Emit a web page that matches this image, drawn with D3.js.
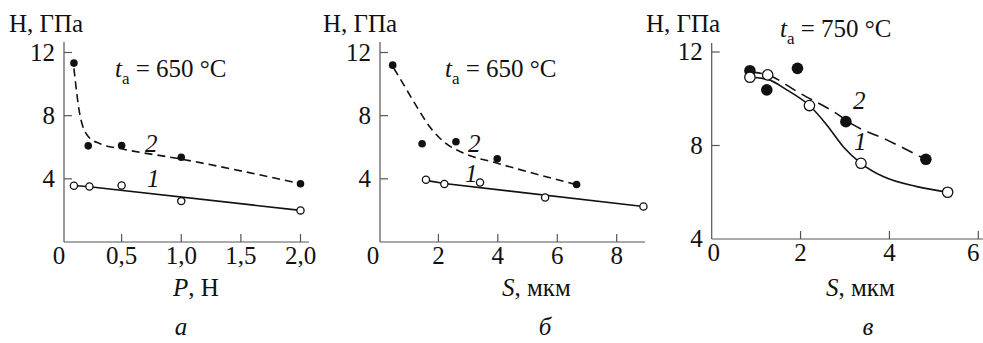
<!DOCTYPE html>
<html><head><meta charset="utf-8">
<script src="https://cdn.jsdelivr.net/npm/d3@7"></script>
<style>body{margin:0;background:#fff}</style>
</head><body><svg id="c" width="983" height="343"></svg>
<script>
// ---- Panel a: H vs P ----
const aX1 = [0.1, 0.23, 0.5, 1.0, 2.0];
const aY1 = [3.56, 3.51, 3.58, 2.59, 2.0];
const aX2 = [0.1, 0.22, 0.5, 1.0, 2.0];
const aY2 = [11.33, 6.09, 6.11, 5.37, 3.69];
const aFit1X = [0.1, 0.23, 2.0];
const aFit1Y = [3.58, 3.5, 2.0];
const aFit2X = [0.1, 0.15, 0.22, 0.32, 0.5, 1.0, 2.0];
const aFit2Y = [11.0, 8.06, 6.68, 6.22, 5.9, 5.25, 3.69];
const aXTicks = [0, 0.5, 1.0, 1.5, 2.0];
const aXTickLabels = ["0", "0,5", "1,0", "1,5", "2,0"];
// ---- Panel b: H vs S (650 °C) ----
const bX1 = [1.58, 2.2, 3.4, 5.59, 8.9];
const bY1 = [3.94, 3.67, 3.77, 2.82, 2.25];
const bX2 = [0.46, 1.45, 2.59, 3.98, 6.65];
const bY2 = [11.2, 6.22, 6.35, 5.27, 3.64];
const bFit1X = [1.58, 2.2, 8.9];
const bFit1Y = [3.9, 3.7, 2.25];
const bFit2X = [0.5, 0.82, 1.27, 1.72, 2.17, 2.84, 3.96, 6.6];
const bFit2Y = [11.0, 10.0, 8.57, 7.26, 6.36, 5.63, 5.0, 3.65];
const bXTicks = [0, 2, 4, 6, 8];
const bXTickLabels = ["0", "2", "4", "6", "8"];
// ---- Panel c: H vs S (750 °C) ----
const cX1 = [0.86, 1.26, 2.2, 3.36, 5.31];
const cY1 = [10.92, 11.02, 9.71, 7.24, 6.0];
const cX2 = [0.86, 1.24, 1.93, 3.02, 4.82];
const cY2 = [11.2, 10.38, 11.3, 9.02, 7.41];
const cFit1X = [0.86, 1.26, 1.69, 2.2, 2.59, 2.96, 3.36, 3.86, 4.62, 5.31];
const cFit1Y = [10.92, 10.83, 10.38, 9.71, 8.88, 7.95, 7.24, 6.67, 6.24, 6.0];
const cFit2X = [0.86, 1.26, 1.99, 2.74, 3.19, 3.94, 4.82];
const cFit2Y = [11.15, 11.02, 10.23, 9.45, 8.88, 8.24, 7.4];
const cXTicks = [0, 2, 4, 6];
const cXTickLabels = ["0", "2", "4", "6"];
const abYTicks = [4, 8, 12];
const cYTicks = [4, 8, 12];

const svg = d3.select("#c");
const FS = 25;
const zip = (xs, ys) => xs.map((x, i) => ({x, y: ys[i]}));

function panel(o) {
  const FAM = o.fam;
  const txt = sel => sel.attr("font-size", FS).style("font-family", FAM).attr("fill", "#111");
  const g = svg.append("g");
  const x = d3.scaleLinear().domain(o.xDom).range(o.xRange);
  const y = d3.scaleLinear().domain(o.yDom).range(o.yRange);
  g.append("line").attr("x1", o.axX).attr("x2", o.axX).attr("y1", o.axTop).attr("y2", o.axY)
    .attr("stroke", "#555").attr("stroke-width", 1.2);
  g.append("line").attr("x1", o.axX).attr("x2", o.axRight).attr("y1", o.axY).attr("y2", o.axY)
    .attr("stroke", "#555").attr("stroke-width", 1.2);
  // x ticks and labels
  g.selectAll(".xt").data(o.xTicks.filter(d => d !== 0)).join("line")
    .attr("x1", d => x(d)).attr("x2", d => x(d)).attr("y1", o.axY).attr("y2", o.axY - 8)
    .attr("stroke", "#555").attr("stroke-width", 1.2);
  o.xTicks.forEach((d, i) => {
    txt(g.append("text")).attr("x", x(d) + (d === 0 ? o.zeroShift : (d === o.xDom[1] && o.lastShift ? o.lastShift : 0)))
      .attr("y", o.axY + 22).attr("text-anchor", "middle").text(o.xLabels[i]);
  });
  // y ticks and labels
  g.selectAll(".yt").data(o.yTicks.filter(d => d !== o.yDom[0])).join("line")
    .attr("x1", o.axX).attr("x2", o.axX + 8).attr("y1", d => y(d)).attr("y2", d => y(d))
    .attr("stroke", "#555").attr("stroke-width", 1.2);
  o.yTicks.forEach(d => {
    txt(g.append("text")).attr("x", o.axX - 9).attr("y", y(d) + (d === o.yDom[0] && o.lowShift ? o.lowShift : 8))
      .attr("text-anchor", "end").text(d);
  });
  const line = d3.line().x(d => x(d.x)).y(d => y(d.y)).curve(d3.curveMonotoneX);
  g.append("path").datum(zip(o.f1x, o.f1y)).attr("d", d3.line().x(d => x(d.x)).y(d => y(d.y)).curve(o.curve1 || d3.curveLinear))
    .attr("fill", "none").attr("stroke", "#111").attr("stroke-width", 1.6);
  g.append("path").datum(zip(o.f2x, o.f2y)).attr("d", line)
    .attr("fill", "none").attr("stroke", "#111").attr("stroke-width", 1.6).attr("stroke-dasharray", o.dash);
  g.selectAll(".p2").data(zip(o.x2, o.y2)).join("circle").attr("cx", d => x(d.x)).attr("cy", d => y(d.y))
    .attr("r", o.rf).attr("fill", "#111");
  g.selectAll(".p1").data(zip(o.x1, o.y1)).join("circle").attr("cx", d => x(d.x)).attr("cy", d => y(d.y))
    .attr("r", o.ro).attr("fill", "#fff").attr("stroke", "#111").attr("stroke-width", 1.3);
  txt(g.append("text").attr("x", o.titleX).attr("y", 32)).text("H, ГПа");
  const ta = txt(g.append("text").attr("x", o.taX).attr("y", o.taY));
  ta.append("tspan").attr("font-style", "italic").text("t");
  ta.append("tspan").attr("font-size", 17).attr("dy", 7).text("a");
  ta.append("tspan").attr("dy", -7).text(o.taText);
  const xt = txt(g.append("text").attr("x", o.xtX).attr("y", 296));
  xt.append("tspan").attr("font-style", "italic").text(o.xtVar);
  xt.append("tspan").text(o.xtRest);
  txt(g.append("text").attr("x", o.l2[0]).attr("y", o.l2[1])).attr("font-style", "italic").text("2");
  txt(g.append("text").attr("x", o.l1[0]).attr("y", o.l1[1])).attr("font-style", "italic").text("1");
  txt(g.append("text").attr("x", o.letX).attr("y", 335)).attr("font-style", "italic")
    .attr("text-anchor", "middle").text(o.letter);
}

panel({fam: '"Liberation Serif"', xDom: [0, 2], xRange: [62, 300.5], yDom: [0, 12], yRange: [242, 52.5],
  axX: 64, axY: 242, axTop: 42, axRight: 309,
  xTicks: aXTicks, xLabels: aXTickLabels, yTicks: abYTicks, zeroShift: -3,
  x1: aX1, y1: aY1, x2: aX2, y2: aY2, f1x: aFit1X, f1y: aFit1Y, f2x: aFit2X, f2y: aFit2Y,
  dash: "8,5", rf: 3.8, ro: 3.6, titleX: 9, taX: 115, taY: 77, taText: " = 650 °C",
  xtX: 173, xtVar: "P", xtRest: ", Н", l2: [145, 152], l1: [147, 187], letX: 181, letter: "а"});

panel({fam: "Tinos", xDom: [0, 8], xRange: [379, 616.7], yDom: [0, 12], yRange: [242, 52.5],
  axX: 380, axY: 242, axTop: 42, axRight: 645,
  xTicks: bXTicks, xLabels: bXTickLabels, yTicks: abYTicks, zeroShift: -6,
  x1: bX1, y1: bY1, x2: bX2, y2: bY2, f1x: bFit1X, f1y: bFit1Y, f2x: bFit2X, f2y: bFit2Y,
  dash: "8,5", rf: 3.8, ro: 3.6, titleX: 323, taX: 445, taY: 77, taText: " = 650 °C",
  xtX: 502, xtVar: "S", xtRest: ", мкм", l2: [468, 152], l1: [465, 182], letX: 545, letter: "б"});

panel({fam: "'Times New Roman'", xDom: [0, 6], xRange: [711.7, 978.3], yDom: [4, 12], yRange: [239, 52],
  axX: 711.7, axY: 239, axTop: 43, axRight: 990,
  xTicks: cXTicks, xLabels: cXTickLabels, yTicks: cYTicks, zeroShift: 2, lastShift: -5, lowShift: 0,
  x1: cX1, y1: cY1, x2: cX2, y2: cY2, f1x: cFit1X, f1y: cFit1Y, f2x: cFit2X, f2y: cFit2Y,
  curve1: d3.curveMonotoneX,
  dash: "12,7", rf: 5.8, ro: 5.2, titleX: 646, taX: 780, taY: 37, taText: " = 750 °C",
  xtX: 826, xtVar: "S", xtRest: ", мкм", l2: [853, 109], l1: [854, 150], letX: 868, letter: "в"});
</script></body></html>
